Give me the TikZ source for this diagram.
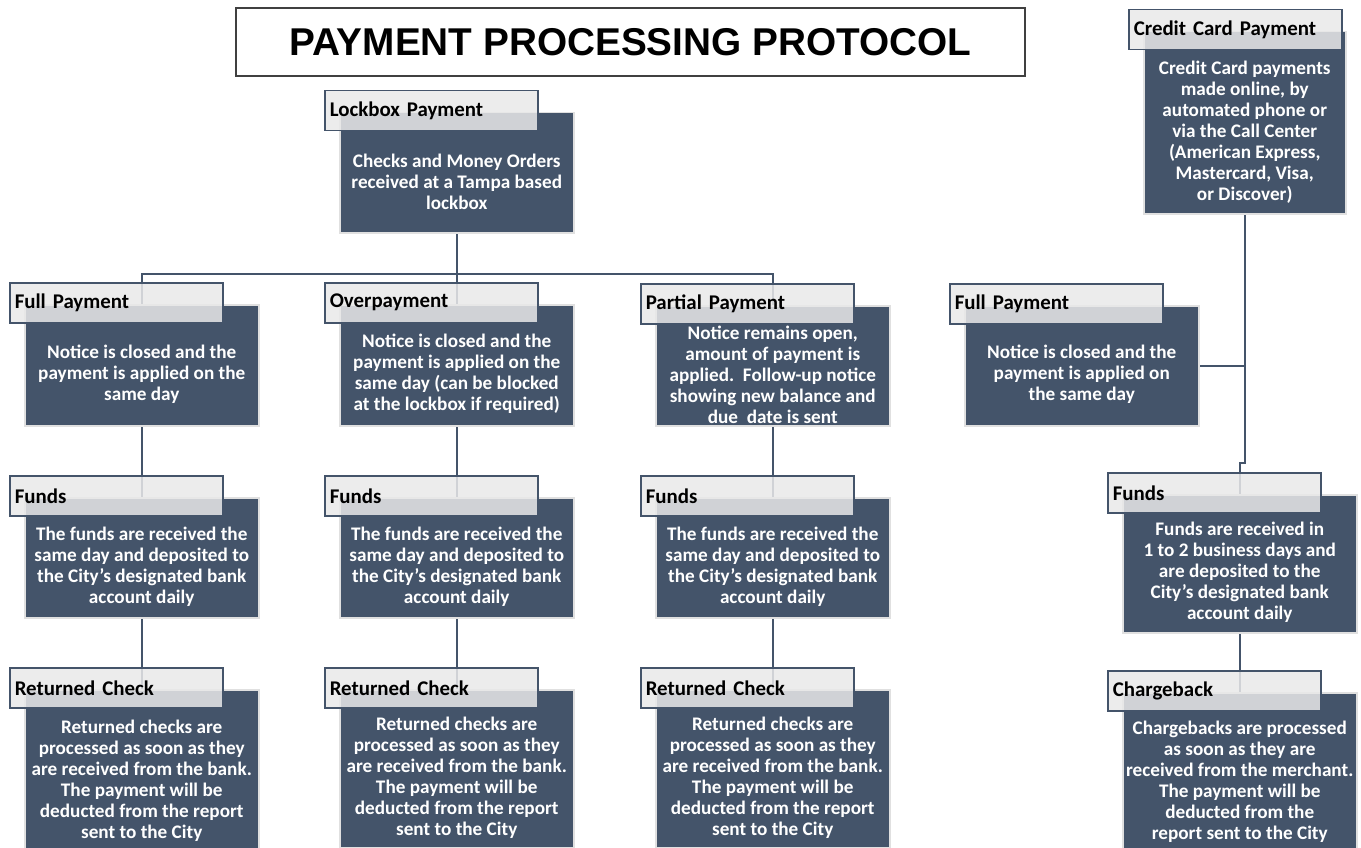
\documentclass[tikz,border=0pt]{standalone}
\usepackage{fontspec}
\setmainfont{Carlito}
\newfontfamily\titlefont{Liberation Sans}
\usetikzlibrary{calc,backgrounds}

\definecolor{slate}{HTML}{44546A}
\definecolor{tabgray}{HTML}{E9E9E9}

\newcommand{\bodyfont}{\bfseries\fontsize{19.2}{21}\selectfont}
\newcommand{\tabfont}{\bfseries\fontsize{20.9}{24}\selectfont}

% card = dark box + grey title tab + centred text
\newcommand{\card}[7]{%
  \node[cardbox, minimum width=#4, minimum height=#5] (#1) at (#2,#3) {};
  \node[cardtab] (#1-tab) at ($(#1.north west)+(-15,-22)$) {#6};
  \node[cardtext] (#1-text) at ($(#1.north)!0.5!(#1.south)+(0,9)$) {#7};
}

\begin{document}
\begin{tikzpicture}
  [x=1pt,y=-1pt,
   cardbox/.style={rectangle,anchor=north west,fill=slate,draw=black!12,line width=1.5pt,inner sep=0pt},
   cardtab/.style={rectangle,anchor=north west,fill=tabgray,fill opacity=0.85,text opacity=1,
                   draw=slate,line width=1.5pt,minimum height=40pt,text width=203pt,
                   inner xsep=5pt,inner ysep=0pt,align=left,font=\tabfont},
   cardtext/.style={text=white,align=center,inner sep=0pt,font=\bodyfont},
   link/.style={draw=slate,line width=2pt}]

  \useasboundingbox (0,0) rectangle (1361,848);

  \node[draw=black!75,line width=1.2pt,minimum width=789pt,minimum height=68pt,inner sep=0pt,
        font=\titlefont\bfseries\fontsize{38.75}{40}\selectfont] (title) at (630.5,42)
        {PAYMENT PROCESSING PROTOCOL};

  % lockbox branch
  \card{lock}{339}{112}{234}{120}{Lockbox Payment}
       {Checks and Money Orders\\received at a Tampa based\\lockbox}

  \card{full1}{24}{304}{234}{121}{Full Payment}
       {Notice is closed and the\\payment is applied on the\\same day}
  \card{over}{339}{304}{234}{121}{Overpayment}
       {Notice is closed and the\\payment is applied on the\\same day (can be blocked\\at the lockbox if required)}
  \card{partial}{655}{305}{234}{120}{Partial Payment}
       {Notice remains open,\\amount of payment is\\applied.\ \ Follow-up notice\\showing new balance and\\due\ \ date is sent}

  \card{funds1}{24}{497}{234}{120}{Funds}
       {The funds are received the\\same day and deposited to\\the City’s designated bank\\account daily}
  \card{funds2}{339}{497}{234}{120}{Funds}
       {The funds are received the\\same day and deposited to\\the City’s designated bank\\account daily}
  \card{funds3}{655}{497}{234}{120}{Funds}
       {The funds are received the\\same day and deposited to\\the City’s designated bank\\account daily}

  \card{ret1}{24}{689}{234}{164}{Returned Check}
       {Returned checks are\\processed as soon as they\\are received from the bank.\\The payment will be\\deducted from the report\\sent to the City}
  \card{ret2}{339}{689}{234}{158}{Returned Check}
       {Returned checks are\\processed as soon as they\\are received from the bank.\\The payment will be\\deducted from the report\\sent to the City}
  \card{ret3}{655}{689}{234}{158}{Returned Check}
       {Returned checks are\\processed as soon as they\\are received from the bank.\\The payment will be\\deducted from the report\\sent to the City}

  % credit card branch
  \card{credit}{1143}{31}{202}{182}{Credit Card Payment}
       {Credit Card payments\\made online, by\\automated phone or\\via the Call Center\\(American Express,\\Mastercard, Visa,\\or Discover)}
  \card{full2}{964}{305}{234}{120}{Full Payment}
       {Notice is closed and the\\payment is applied on\\the same day}
  \card{funds4}{1122}{494}{234}{138}{Funds}
       {Funds are received in\\1 to 2 business days and\\are deposited to the\\City’s designated bank\\account daily}
  \card{charge}{1122}{692}{234}{161}{Chargeback}
       {Chargebacks are processed\\as soon as they are\\received from the merchant.\\The payment will be\\deducted from the\\report sent to the City}

  \begin{scope}[on background layer]
    \coordinate (bus) at (lock.south |- 0,274);
    \draw[link] (lock.south) -- (bus);
    \draw[link] (full1.north) |- (bus) -| (partial.north);
    \draw[link] (bus) -- (over.north);
    \draw[link] (full1.south) -- (funds1.north);
    \draw[link] (over.south) -- (funds2.north);
    \draw[link] (partial.south) -- (funds3.north);
    \draw[link] (funds1.south) -- (ret1.north);
    \draw[link] (funds2.south) -- (ret2.north);
    \draw[link] (funds3.south) -- (ret3.north);
    \draw[link] (credit.south) -- (credit.south |- 0,463) -| (funds4.north);
    \draw[link] (full2.east) -- (full2.east -| credit.south);
    \draw[link] (funds4.south) -- (charge.north);
  \end{scope}
\end{tikzpicture}
\end{document}
